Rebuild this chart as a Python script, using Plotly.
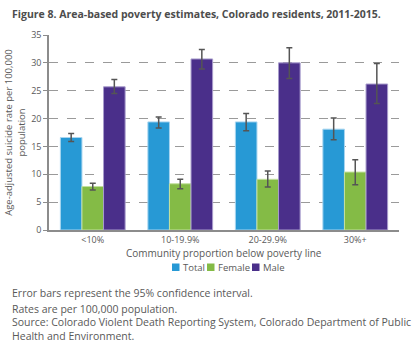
import plotly.graph_objects as go

# Community poverty level groups
categories = ["<10%", "10-19.9%", "20-29.9%", "30%+"]

# Age-adjusted suicide rates per 100,000 with 95% CI bounds
total = [16.6, 19.4, 19.4, 18.1]
total_lo = [15.9, 18.3, 17.8, 16.2]
total_hi = [17.3, 20.3, 20.9, 20.1]

female = [7.8, 8.3, 9.1, 10.4]
female_lo = [7.2, 7.4, 7.7, 8.1]
female_hi = [8.4, 9.1, 10.6, 12.6]

male = [25.7, 30.7, 30.0, 26.2]
male_lo = [24.5, 28.9, 27.2, 22.7]
male_hi = [27.0, 32.4, 32.7, 29.9]

y_ticks = [0, 5, 10, 15, 20, 25, 30, 35]

FONT = "Open Sans"
TXT = "#595959"

series = [
    ("Total", total, total_lo, total_hi, "#2799d5", "#a7d5f0"),
    ("Female", female, female_lo, female_hi, "#84bb46", "#c3e09f"),
    ("Male", male, male_lo, male_hi, "#4a2f8a", "#a89ccc"),
]

W, H = 420, 345
left, right, top, bottom = 49, 21, 35, 115
plot_w = W - left - right
plot_h = H - top - bottom


def px(pix):
    # pixel column -> paper x
    return (pix - left) / plot_w


def py(pix):
    # pixel row -> paper y
    return (H - bottom - pix) / plot_h


fig = go.Figure()
for name, vals, lo, hi, color, edge in series:
    fig.add_trace(go.Bar(
        name=name,
        x=categories,
        y=vals,
        showlegend=False,
        marker=dict(color=color, line=dict(color=edge, width=1)),
        error_y=dict(
            type="data",
            symmetric=False,
            array=[h - v for h, v in zip(hi, vals)],
            arrayminus=[v - l for v, l in zip(vals, lo)],
            color="#555555",
            thickness=1.5,
            width=3,
        ),
    ))

fig.update_layout(
    width=W,
    height=H,
    margin=dict(l=left, r=right, t=top, b=bottom),
    paper_bgcolor="white",
    plot_bgcolor="white",
    barmode="group",
    bargap=0.26,
    bargroupgap=0,
    font=dict(family=FONT, color=TXT, size=9),
    xaxis=dict(
        automargin=False,
        showline=True,
        linecolor="#8c8c8c",
        linewidth=1.5,
        ticks="",
        tickfont=dict(size=9, color=TXT),
    ),
    yaxis=dict(
        automargin=False,
        range=[0, 35],
        tickvals=y_ticks,
        showline=True,
        linecolor="#8c8c8c",
        linewidth=1.5,
        ticks="outside",
        ticklen=4,
        tickcolor="#8c8c8c",
        tickfont=dict(size=9, color=TXT),
        showgrid=True,
        gridcolor="#9a9a9a",
        griddash="dash",
        gridwidth=1,
        zeroline=False,
        title=dict(text="Age-adjusted suicide rate per 100,000<br>population",
                   font=dict(size=9.5, color=TXT), standoff=4),
    ),
)

fig.add_annotation(
    text="Community proportion below poverty line",
    xref="paper", yref="paper", x=0.5, y=py(253),
    xanchor="center", yanchor="middle", showarrow=False,
    font=dict(size=10, color=TXT),
)

# Compact legend: small colour squares with labels
legend_items = [("Total", 172), ("Female", 207), ("Male", 252)]
for (label, x0), (_, _, _, _, color, _) in zip(legend_items, series):
    fig.add_shape(
        type="rect", xref="paper", yref="paper",
        x0=px(x0), x1=px(x0 + 7.5), y0=py(271), y1=py(263.5),
        fillcolor=color, line=dict(width=0),
    )
    fig.add_annotation(
        text=label, xref="paper", yref="paper", x=px(x0 + 8.5), y=py(267),
        xanchor="left", yanchor="middle", showarrow=False,
        font=dict(size=9.5, color=TXT),
    )

fig.add_annotation(
    text="<b>Figure 8. Area-based poverty estimates, Colorado residents, 2011-2015.</b>",
    xref="paper", yref="paper", x=px(10), y=py(14),
    xanchor="left", yanchor="middle", showarrow=False,
    font=dict(size=10.5, color="#4d4d4d"),
)

notes = [
    ("Error bars represent the 95% confidence interval.", 293),
    ("Rates are per 100,000 population.", 309),
    ("Source: Colorado Violent Death Reporting System, Colorado Department of Public"
     "<br>Health and Environment.", 329),
]
for txt, ypix in notes:
    fig.add_annotation(
        text=txt, xref="paper", yref="paper", x=px(10), y=py(ypix),
        xanchor="left", yanchor="middle", showarrow=False, align="left",
        font=dict(size=10.5, color=TXT),
    )

fig.write_html("out.html")
